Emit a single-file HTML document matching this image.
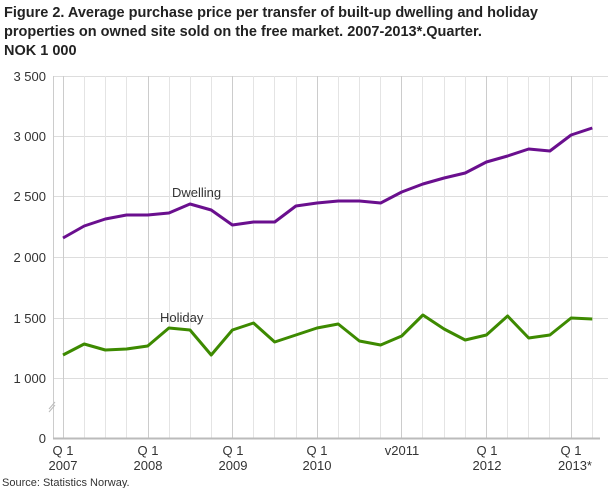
<!DOCTYPE html><html><head><style>body{margin:0;background:#fff}svg{display:block;font-family:"Liberation Sans",sans-serif}</style></head><body>
<svg width="610" height="488" xmlns="http://www.w3.org/2000/svg">
<text font-size="14.5" font-weight="bold" fill="#222"><tspan x="4" y="17">Figure 2. Average purchase price per transfer of built-up dwelling and holiday</tspan><tspan x="4" y="36">properties on owned site sold on the free market. 2007-2013*.Quarter.</tspan><tspan x="4" y="55">NOK 1 000</tspan></text>
<g stroke="#ddd" stroke-width="1">
<line x1="53" y1="76.5" x2="608" y2="76.5"/><line x1="53" y1="136.5" x2="608" y2="136.5"/><line x1="53" y1="196.5" x2="608" y2="196.5"/><line x1="53" y1="257.5" x2="608" y2="257.5"/><line x1="53" y1="318.5" x2="608" y2="318.5"/><line x1="53" y1="378.5" x2="608" y2="378.5"/>
</g>
<g stroke="#e4e4e4" stroke-width="1">
<line x1="63.5" y1="76" x2="63.5" y2="438" stroke="#ccc"/><line x1="84.5" y1="76" x2="84.5" y2="438"/><line x1="105.5" y1="76" x2="105.5" y2="438"/><line x1="126.5" y1="76" x2="126.5" y2="438"/>
<line x1="148.5" y1="76" x2="148.5" y2="438" stroke="#ccc"/><line x1="169.5" y1="76" x2="169.5" y2="438"/><line x1="190.5" y1="76" x2="190.5" y2="438"/><line x1="211.5" y1="76" x2="211.5" y2="438"/>
<line x1="232.5" y1="76" x2="232.5" y2="438" stroke="#ccc"/><line x1="253.5" y1="76" x2="253.5" y2="438"/><line x1="274.5" y1="76" x2="274.5" y2="438"/><line x1="296.5" y1="76" x2="296.5" y2="438"/>
<line x1="317.5" y1="76" x2="317.5" y2="438" stroke="#ccc"/><line x1="338.5" y1="76" x2="338.5" y2="438"/><line x1="359.5" y1="76" x2="359.5" y2="438"/><line x1="380.5" y1="76" x2="380.5" y2="438"/>
<line x1="401.5" y1="76" x2="401.5" y2="438" stroke="#ccc"/><line x1="422.5" y1="76" x2="422.5" y2="438"/><line x1="444.5" y1="76" x2="444.5" y2="438"/><line x1="465.5" y1="76" x2="465.5" y2="438"/>
<line x1="486.5" y1="76" x2="486.5" y2="438" stroke="#ccc"/><line x1="507.5" y1="76" x2="507.5" y2="438"/><line x1="528.5" y1="76" x2="528.5" y2="438"/><line x1="549.5" y1="76" x2="549.5" y2="438"/>
<line x1="571.5" y1="76" x2="571.5" y2="438" stroke="#ccc"/><line x1="592.5" y1="76" x2="592.5" y2="438"/>
</g>
<line x1="53.5" y1="76" x2="53.5" y2="438" stroke="#ccc"/>
<line x1="53" y1="438.5" x2="600" y2="438.5" stroke="#bbb" stroke-width="2"/>
<line x1="49" y1="412" x2="55" y2="405" stroke="#bbb"/><line x1="49" y1="409" x2="55" y2="402" stroke="#bbb"/>
<g font-size="13" fill="#333" text-anchor="end">
<text x="46" y="81">3 500</text><text x="46" y="141">3 000</text><text x="46" y="201">2 500</text><text x="46" y="262">2 000</text><text x="46" y="323">1 500</text><text x="46" y="383">1 000</text><text x="46" y="443">0</text></g>
<g font-size="13" fill="#333" text-anchor="middle">
<text x="63" y="455">Q 1</text><text x="63" y="470">2007</text>
<text x="148" y="455">Q 1</text><text x="148" y="470">2008</text>
<text x="233" y="455">Q 1</text><text x="233" y="470">2009</text>
<text x="317" y="455">Q 1</text><text x="317" y="470">2010</text>
<text x="402" y="455">v2011</text>
<text x="487" y="455">Q 1</text><text x="487" y="470">2012</text>
<text x="571" y="455">Q 1</text><text x="575" y="470">2013*</text></g>
<text x="2" y="486" font-size="11" fill="#333">Source: Statistics Norway.</text>
<text x="172" y="197" font-size="13" fill="#333">Dwelling</text>
<text x="160" y="322" font-size="13" fill="#333">Holiday</text>
<polyline fill="none" stroke="#6a0f8e" stroke-width="3" stroke-linejoin="round" points="63,238 84.2,226 105.3,219 126.5,215 147.7,215 168.9,213 190,204 211.2,210 232.4,225 253.5,222 274.7,222 295.9,206 317,203 338.2,201 359.4,201 380.6,203 401.7,192 422.9,184 444.1,178 465.2,173 486.4,162 507.6,156 528.7,149 549.9,151 571.1,135 592.3,128"/>
<polyline fill="none" stroke="#3d8a00" stroke-width="3" stroke-linejoin="round" points="63,355 84.2,344 105.3,350 126.5,349 147.7,346 168.9,328 190,330 211.2,355 232.4,330 253.5,323 274.7,342 295.9,335 317,328 338.2,324 359.4,341 380.6,345 401.7,336 422.9,315 444.1,329 465.2,340 486.4,335 507.6,316 528.7,338 549.9,335 571.1,318 592.3,319"/>
</svg></body></html>
